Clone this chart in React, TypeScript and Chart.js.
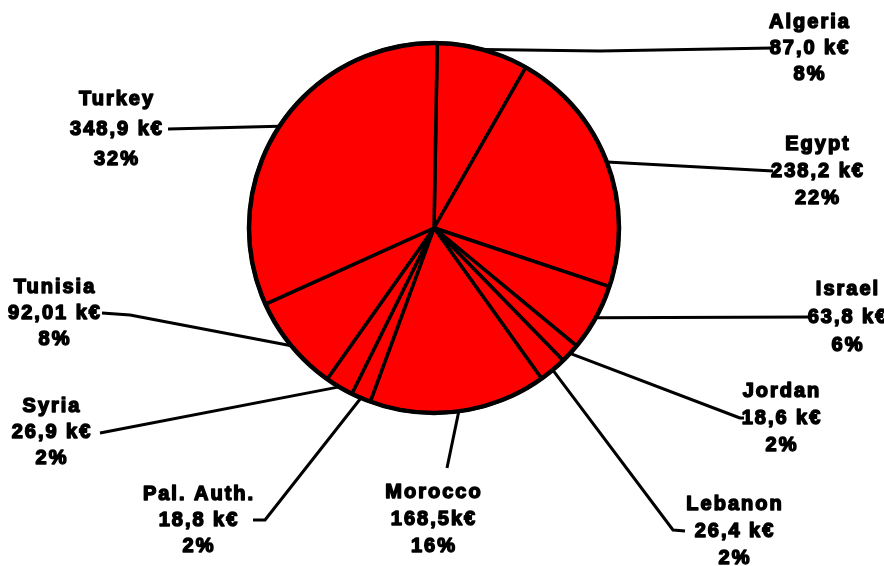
import React, { useEffect, useRef } from "react";
import { Chart, registerables } from "chart.js";

Chart.register(...registerables);

// ---- data ----
const countries = ["Algeria", "Egypt", "Israel", "Jordan", "Lebanon", "Morocco", "Pal. Auth.", "Syria", "Tunisia", "Turkey"];
const amounts = [87.0, 238.2, 63.8, 18.6, 26.4, 168.5, 18.8, 26.9, 92.01, 348.9];
const amountLabels = ["87,0 k€", "238,2 k€", "63,8 k€", "18,6 k€", "26,4 k€", "168,5k€", "18,8 k€", "26,9 k€", "92,01 k€", "348,9 k€"];
const shareLabels = ["8%", "22%", "6%", "2%", "2%", "16%", "2%", "2%", "8%", "32%"];

// ---- label layout (text block centre + leader route) ----
type Layout = { tx: number; ty: number; gap: number; route: number[][] };
const labelLayout: Layout[] = [
  { tx: 810, ty: 48, gap: 26, route: [[600, 51], [773, 48]] },
  { tx: 818, ty: 171, gap: 27, route: [[773, 171]] },
  { tx: 848, ty: 317, gap: 28, route: [[812, 317]] },
  { tx: 782, ty: 418, gap: 27, route: [[740, 418], [744, 418]] },
  { tx: 735, ty: 531, gap: 27, route: [[673, 530], [685, 531]] },
  { tx: 434, ty: 519, gap: 27, route: [[447, 468]] },
  { tx: 199, ty: 520, gap: 26, route: [[265, 520], [253, 520]] },
  { tx: 52, ty: 432, gap: 26, route: [[100, 433]] },
  { tx: 55, ty: 313, gap: 26, route: [[130, 315], [102, 313]] },
  { tx: 117, ty: 129, gap: 30, route: [[168, 129]] },
];

const FONT = "bold 20px 'Liberation Sans', Arial, sans-serif";

const labelPlugin = {
  id: "leaderLabels",
  afterDraw(chart: any) {
    const ctx = chart.ctx as CanvasRenderingContext2D;
    const meta = chart.getDatasetMeta(0);
    ctx.save();
    // heavier outer ring
    const first = meta.data[0].getProps(["x", "y", "outerRadius"], true);
    ctx.beginPath();
    ctx.strokeStyle = "#000";
    ctx.lineWidth = 4.5;
    ctx.arc(first.x, first.y, first.outerRadius, 0, Math.PI * 2);
    ctx.stroke();

    meta.data.forEach((arc: any, i: number) => {
      const p = arc.getProps(["x", "y", "startAngle", "endAngle", "outerRadius"], true);
      const mid = (p.startAngle + p.endAngle) / 2;
      const sx = p.x + Math.cos(mid) * p.outerRadius;
      const sy = p.y + Math.sin(mid) * p.outerRadius;
      const lay = labelLayout[i];
      ctx.beginPath();
      ctx.strokeStyle = "#000";
      ctx.lineWidth = 3;
      ctx.lineJoin = "round";
      ctx.moveTo(sx, sy);
      lay.route.forEach(([x, y]) => ctx.lineTo(x, y));
      ctx.stroke();

      ctx.font = FONT;
      (ctx as any).letterSpacing = "2px";
      ctx.textAlign = "center";
      ctx.textBaseline = "middle";
      ctx.fillStyle = "#000";
      ctx.lineWidth = 1.5;
      ctx.lineJoin = "round";
      const lines = [countries[i], amountLabels[i], shareLabels[i]];
      lines.forEach((t, k) => {
        const y = lay.ty + (k - 1) * lay.gap;
        ctx.fillText(t, lay.tx, y);
        ctx.strokeText(t, lay.tx, y);
      });
    });
    ctx.restore();
  },
};

export default function App() {
  const ref = useRef<HTMLCanvasElement | null>(null);
  useEffect(() => {
    document.body.style.margin = "0";
    const chart = new Chart(ref.current as HTMLCanvasElement, {
      type: "pie",
      data: {
        labels: countries,
        datasets: [
          {
            data: amounts,
            backgroundColor: "#ff0000",
            borderColor: "#000000",
            borderWidth: 3.5,
          },
        ],
      },
      options: {
        responsive: false,
        animation: false,
        rotation: 1,
        radius: 185,
        layout: { padding: { left: 240, right: 256, top: 42, bottom: 152 } },
        plugins: {
          legend: { display: false },
          tooltip: { enabled: false },
        },
      },
      plugins: [labelPlugin],
    });
    return () => chart.destroy();
  }, []);
  return (
    <div style={{ width: 884, height: 566, background: "#fff" }}>
      <canvas ref={ref} width={884} height={566} style={{ display: "block" }} />
    </div>
  );
}
